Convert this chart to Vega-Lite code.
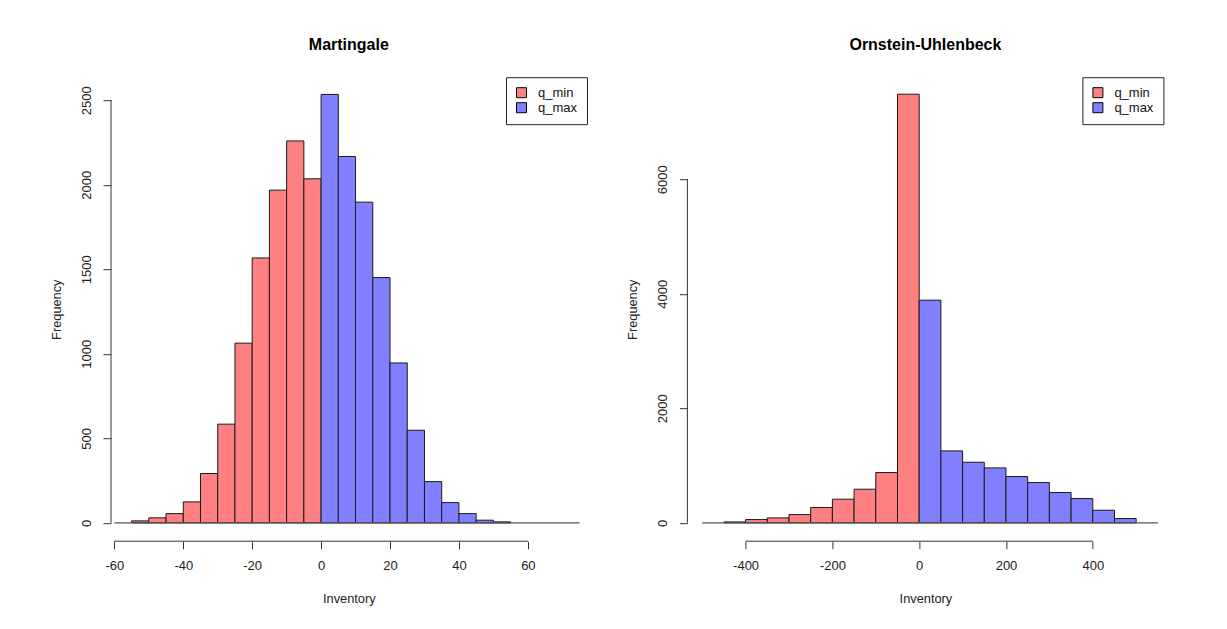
{
  "$schema": "https://vega.github.io/schema/vega-lite/v6.json",
  "autosize": {"type": "pad"},
  "padding": {"left": 50, "top": 36.2, "right": 5, "bottom": 5},
  "background": "white",
  "bounds": "flush",
  "spacing": 100.4,
  "resolve": {"scale": {"fill": "independent"}, "legend": {"fill": "independent"}},
  "config": {
    "font": "Liberation Sans",
    "view": {"stroke": null},
    "title": {"font": "Liberation Sans", "fontSize": 16, "fontWeight": "bold", "color": "#000", "anchor": "middle", "baseline": "alphabetic", "offset": 24},
    "axis": {"labelFont": "Liberation Sans", "titleFont": "Liberation Sans", "labelColor": "#222", "titleColor": "#222", "tickColor": "#333", "tickWidth": 1, "grid": false, "domain": false, "labelFontSize": 13, "titleFontSize": 12.8, "titleFontWeight": "normal", "labelOverlap": false, "labelFlush": false, "labelExpr": "'' + datum.value"},
    "axisX": {"tickSize": 7.5, "labelPadding": 10.5, "labelBaseline": "top", "titleY": 51.5, "titleBaseline": "top"},
    "axisY": {"tickSize": 8, "labelPadding": 10, "labelAngle": -90, "labelAlign": "center", "labelBaseline": "bottom", "titleX": -47.7, "titleY": 232, "titleAngle": -90, "titleAlign": "center", "titleBaseline": "bottom"},
    "legend": {"orient": "top-right", "offset": 0, "title": null, "symbolType": "square", "symbolSize": 100, "symbolStrokeColor": "#000", "symbolStrokeWidth": 1, "symbolOpacity": 1, "labelFont": "Liberation Sans", "labelFontSize": 13, "labelColor": "#111", "labelOffset": 10, "padding": 9, "rowPadding": 0, "strokeColor": "#222", "fillColor": "white"}
  },
  "hconcat": [
    {
      "width": 475.6,
      "height": 464,
      "title": {"text": "Martingale"},
      "layer": [
        {
          "data": {"values": [
            {"x0": -55, "x1": -50, "count": 12, "series": "q_min"},
            {"x0": -50, "x1": -45, "count": 30, "series": "q_min"},
            {"x0": -45, "x1": -40, "count": 55, "series": "q_min"},
            {"x0": -40, "x1": -35, "count": 124, "series": "q_min"},
            {"x0": -35, "x1": -30, "count": 292, "series": "q_min"},
            {"x0": -30, "x1": -25, "count": 584, "series": "q_min"},
            {"x0": -25, "x1": -20, "count": 1063, "series": "q_min"},
            {"x0": -20, "x1": -15, "count": 1567, "series": "q_min"},
            {"x0": -15, "x1": -10, "count": 1968, "series": "q_min"},
            {"x0": -10, "x1": -5, "count": 2259, "series": "q_min"},
            {"x0": -5, "x1": 0, "count": 2035, "series": "q_min"},
            {"x0": 0, "x1": 5, "count": 2534, "series": "q_max"},
            {"x0": 5, "x1": 10, "count": 2167, "series": "q_max"},
            {"x0": 10, "x1": 15, "count": 1897, "series": "q_max"},
            {"x0": 15, "x1": 20, "count": 1451, "series": "q_max"},
            {"x0": 20, "x1": 25, "count": 946, "series": "q_max"},
            {"x0": 25, "x1": 30, "count": 548, "series": "q_max"},
            {"x0": 30, "x1": 35, "count": 244, "series": "q_max"},
            {"x0": 35, "x1": 40, "count": 120, "series": "q_max"},
            {"x0": 40, "x1": 45, "count": 55, "series": "q_max"},
            {"x0": 45, "x1": 50, "count": 16, "series": "q_max"},
            {"x0": 50, "x1": 55, "count": 6, "series": "q_max"}
          ]},
          "mark": {"type": "rect", "stroke": "#1a1a1a", "strokeWidth": 1},
          "encoding": {
            "x": {"field": "x0", "type": "quantitative", "scale": {"domain": [-60.97, 77.05], "nice": false, "zero": false}, "axis": {"values": [-60, -40, -20, 0, 20, 40, 60], "title": "Inventory"}},
            "x2": {"field": "x1"},
            "y": {"field": "count", "type": "quantitative", "scale": {"domain": [-108.2, 2636], "nice": false, "zero": false}, "axis": {"values": [0, 500, 1000, 1500, 2000, 2500], "title": "Frequency"}},
            "y2": {"datum": 0},
            "fill": {"field": "series", "type": "nominal", "scale": {"domain": ["q_min", "q_max"], "range": ["#FF8080", "#8080FF"]}}
          }
        },
        {
          "data": {"values": [{}]},
          "mark": {"type": "rule", "color": "#555", "strokeWidth": 1.2},
          "encoding": {"x": {"datum": -60, "type": "quantitative"}, "x2": {"datum": 75}, "y": {"datum": 0, "type": "quantitative"}}
        },
        {
          "data": {"values": [{}]},
          "mark": {"type": "rule", "color": "#333", "strokeWidth": 1},
          "encoding": {"x": {"datum": -60, "type": "quantitative"}, "x2": {"datum": 60}, "y": {"datum": -108.2, "type": "quantitative"}}
        },
        {
          "data": {"values": [{}]},
          "mark": {"type": "rule", "color": "#333", "strokeWidth": 1},
          "encoding": {"x": {"datum": -60.97, "type": "quantitative"}, "y": {"datum": 0, "type": "quantitative"}, "y2": {"datum": 2500}}
        }
      ]
    },
    {
      "width": 476,
      "height": 464,
      "title": {"text": "Ornstein-Uhlenbeck"},
      "layer": [
        {
          "data": {"values": [
            {"x0": -450, "x1": -400, "count": 17, "series": "q_min"},
            {"x0": -400, "x1": -350, "count": 58, "series": "q_min"},
            {"x0": -350, "x1": -300, "count": 87, "series": "q_min"},
            {"x0": -300, "x1": -250, "count": 145, "series": "q_min"},
            {"x0": -250, "x1": -200, "count": 268, "series": "q_min"},
            {"x0": -200, "x1": -150, "count": 413, "series": "q_min"},
            {"x0": -150, "x1": -100, "count": 588, "series": "q_min"},
            {"x0": -100, "x1": -50, "count": 879, "series": "q_min"},
            {"x0": -50, "x1": 0, "count": 7484, "series": "q_min"},
            {"x0": 0, "x1": 50, "count": 3888, "series": "q_max"},
            {"x0": 50, "x1": 100, "count": 1257, "series": "q_max"},
            {"x0": 100, "x1": 150, "count": 1059, "series": "q_max"},
            {"x0": 150, "x1": 200, "count": 960, "series": "q_max"},
            {"x0": 200, "x1": 250, "count": 809, "series": "q_max"},
            {"x0": 250, "x1": 300, "count": 704, "series": "q_max"},
            {"x0": 300, "x1": 350, "count": 530, "series": "q_max"},
            {"x0": 350, "x1": 400, "count": 425, "series": "q_max"},
            {"x0": 400, "x1": 450, "count": 221, "series": "q_max"},
            {"x0": 450, "x1": 500, "count": 76, "series": "q_max"}
          ]},
          "mark": {"type": "rect", "stroke": "#1a1a1a", "strokeWidth": 1},
          "encoding": {
            "x": {"field": "x0", "type": "quantitative", "scale": {"domain": [-534.1, 562.7], "nice": false, "zero": false}, "axis": {"values": [-400, -200, 0, 200, 400], "title": "Inventory"}},
            "x2": {"field": "x1"},
            "y": {"field": "count", "type": "quantitative", "scale": {"domain": [-319.5, 7781], "nice": false, "zero": false}, "axis": {"values": [0, 2000, 4000, 6000], "title": "Frequency"}},
            "y2": {"datum": 0},
            "fill": {"field": "series", "type": "nominal", "scale": {"domain": ["q_min", "q_max"], "range": ["#FF8080", "#8080FF"]}}
          }
        },
        {
          "data": {"values": [{}]},
          "mark": {"type": "rule", "color": "#555", "strokeWidth": 1.2},
          "encoding": {"x": {"datum": -500, "type": "quantitative"}, "x2": {"datum": 550}, "y": {"datum": 0, "type": "quantitative"}}
        },
        {
          "data": {"values": [{}]},
          "mark": {"type": "rule", "color": "#333", "strokeWidth": 1},
          "encoding": {"x": {"datum": -400, "type": "quantitative"}, "x2": {"datum": 400}, "y": {"datum": -319.5, "type": "quantitative"}}
        },
        {
          "data": {"values": [{}]},
          "mark": {"type": "rule", "color": "#333", "strokeWidth": 1},
          "encoding": {"x": {"datum": -534.1, "type": "quantitative"}, "y": {"datum": 0, "type": "quantitative"}, "y2": {"datum": 6000}}
        }
      ]
    }
  ]
}
